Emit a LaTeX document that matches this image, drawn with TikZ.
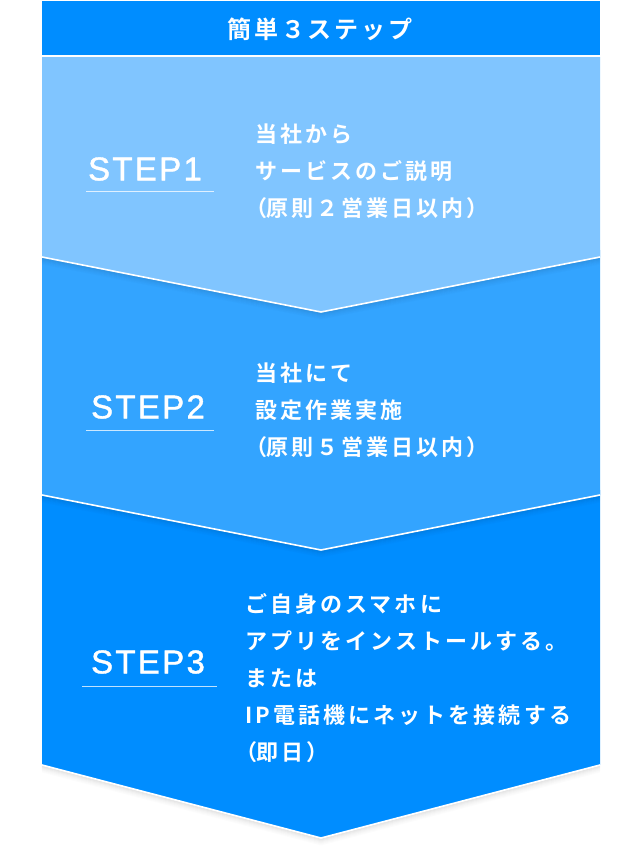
\documentclass[tikz,border=0pt]{standalone}
\usepackage{fontspec}
\usetikzlibrary{calc}
\newfontfamily\jpfont{Noto Sans CJK JP Bold}[LetterSpace=14]
\newfontfamily\jphead{Noto Sans CJK JP Bold}[LetterSpace=12]
\newfontfamily\stepfont{Liberation Sans}[LetterSpace=7,FakeBold=1.2]
\newcommand\pw[1]{{\addfontfeatures{RawFeature=+palt}#1}}
\definecolor{hdrblue}{HTML}{008DFF}
\definecolor{stepone}{HTML}{80C5FF}
\definecolor{steptwo}{HTML}{33A4FF}
\definecolor{stepthree}{HTML}{008DFF}
\tikzset{
  bodytext/.style={font=\jpfont\fontsize{22}{37}\selectfont, align=left, inner sep=0pt, text=white, anchor=west},
  steplabel/.style={font=\stepfont\fontsize{33}{36}\selectfont, inner sep=0pt, text=white},
  uline/.style={draw=white, draw opacity=0.75, line width=1pt},
  edgeline/.style={draw=white, line width=1.6pt, line join=miter},
  headtext/.style={font=\jphead\fontsize{24}{26}\selectfont, inner sep=0pt, text=white}
}
\newcommand\myshadow[3]{%
  \foreach \d/\o in {1/0.10,2/0.08,3/0.06,4/0.045,5/0.03,6/0.02,7/0.01}{%
    \draw[black, draw opacity=\o, line width=1pt] ($(#1)+(0,\d)$) -- ($(#2)+(0,\d)$) -- ($(#3)+(0,\d)$);
  }%
}
\begin{document}
\begin{tikzpicture}[x=1pt,y=-1pt]
\useasboundingbox (0,0) rectangle (641,855);
% coordinates
\coordinate (h1) at (42,1);
\coordinate (h2) at (600,55);
% step 3
\coordinate (c3tl) at (42,490);
\coordinate (c3tr) at (600,490);
\coordinate (c3r) at (600,765);
\coordinate (c3t) at (321,838);
\coordinate (c3l) at (42,765);
% step 2
\coordinate (c2tl) at (42,250);
\coordinate (c2tr) at (600,250);
\coordinate (c2r) at (600,495);
\coordinate (c2t) at (321,550);
\coordinate (c2l) at (42,495);
% step 1
\coordinate (c1tl) at (42,57);
\coordinate (c1tr) at (600,57);
\coordinate (c1r) at (600,257);
\coordinate (c1t) at (321,312);
\coordinate (c1l) at (42,257);

% step 3 shape
\myshadow{c3l}{c3t}{c3r}
\fill[stepthree] (c3tl) -- (c3tr) -- (c3r) -- (c3t) -- (c3l) -- cycle;
\draw[edgeline] (c3l) -- (c3t) -- (c3r);
% step 2 shape
\myshadow{c2l}{c2t}{c2r}
\fill[steptwo] (c2tl) -- (c2tr) -- (c2r) -- (c2t) -- (c2l) -- cycle;
\draw[edgeline] (c2l) -- (c2t) -- (c2r);
% step 1 shape
\myshadow{c1l}{c1t}{c1r}
\fill[stepone] (c1tl) -- (c1tr) -- (c1r) -- (c1t) -- (c1l) -- cycle;
\draw[edgeline] (c1l) -- (c1t) -- (c1r);
% header
\fill[hdrblue] (h1) rectangle (h2);
\node[headtext] (head) at (320,29) {簡単３ステップ};

% step labels
\node[steplabel] (s1) at (145,169) {STEP1};
\draw[uline] (86,191) -- (214,191);
\node[steplabel] (s2) at (148,407) {STEP2};
\draw[uline] (86,430) -- (214,430);
\node[steplabel] (s3) at (148,662) {STEP3};
\draw[uline] (82,686) -- (217,686);

% body texts
\node[bodytext] (t1) at (255,171) {当社から\\サービスのご説明\\\pw{（}原則２営業日以内）};
\node[bodytext] (t2) at (255,410) {当社にて\\設定作業実施\\\pw{（}原則５営業日以内）};
\node[bodytext] (t3) at (245,678) {ご自身のスマホに\\アプリをインストールする。\\または\\IP電話機にネットを接続する\\\pw{（}即日）};
\end{tikzpicture}
\end{document}
